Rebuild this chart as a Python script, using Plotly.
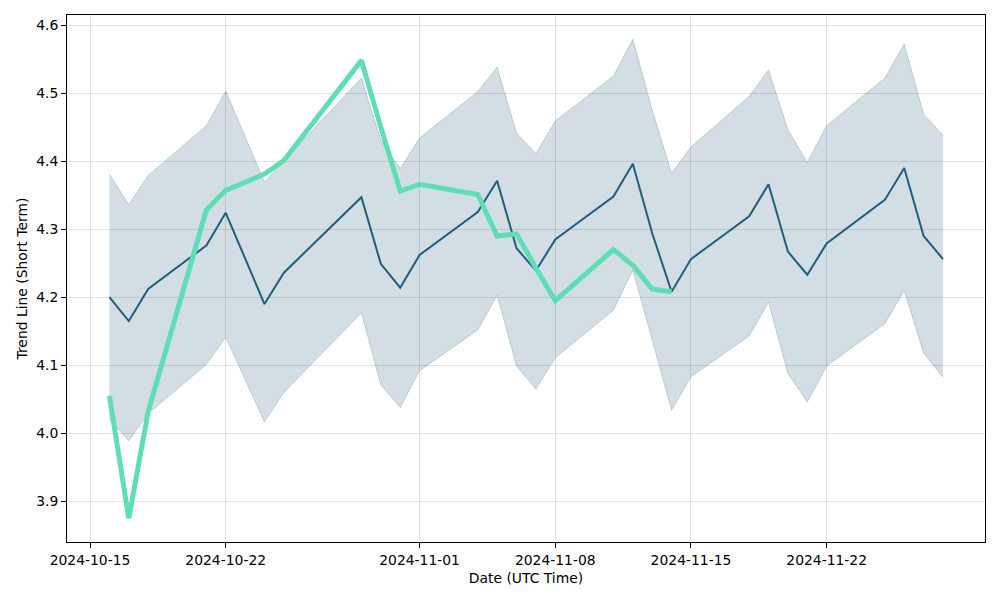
import plotly.graph_objects as go

dates = ["2024-10-16", "2024-10-17", "2024-10-18", "2024-10-21", "2024-10-22", "2024-10-24",
         "2024-10-25", "2024-10-29", "2024-10-30", "2024-10-31", "2024-11-01", "2024-11-04",
         "2024-11-05", "2024-11-06", "2024-11-07", "2024-11-08", "2024-11-11", "2024-11-12",
         "2024-11-13", "2024-11-14", "2024-11-15", "2024-11-18", "2024-11-19", "2024-11-20",
         "2024-11-21", "2024-11-22", "2024-11-25", "2024-11-26", "2024-11-27", "2024-11-28"]

trend_mean = [4.200, 4.165, 4.212, 4.276, 4.324, 4.190, 4.236, 4.347, 4.249, 4.214,
              4.262, 4.325, 4.371, 4.272, 4.239, 4.285, 4.348, 4.396, 4.294, 4.208,
              4.256, 4.319, 4.366, 4.267, 4.233, 4.279, 4.343, 4.390, 4.290, 4.256]

trend_upper = [4.381, 4.336, 4.379, 4.452, 4.503, 4.369, 4.401, 4.522, 4.431, 4.389,
               4.434, 4.502, 4.538, 4.441, 4.411, 4.459, 4.525, 4.579, 4.475, 4.382,
               4.421, 4.495, 4.534, 4.446, 4.398, 4.452, 4.522, 4.572, 4.469, 4.438]

trend_lower = [4.020, 3.989, 4.029, 4.101, 4.141, 4.017, 4.060, 4.177, 4.071, 4.038,
               4.092, 4.152, 4.203, 4.099, 4.065, 4.111, 4.181, 4.240, 4.137, 4.034,
               4.083, 4.143, 4.193, 4.088, 4.046, 4.099, 4.161, 4.210, 4.118, 4.082]

actual_dates = dates[:20]
actual = [4.055, 3.875, 4.032, 4.328, 4.357, 4.381, 4.401, 4.548, 4.450, 4.356,
          4.366, 4.351, 4.290, 4.293, 4.243, 4.195, 4.270, 4.247, 4.212, 4.208]

x_ticks = ["2024-10-15", "2024-10-22", "2024-11-01", "2024-11-08", "2024-11-15", "2024-11-22"]
y_ticks = [3.9, 4.0, 4.1, 4.2, 4.3, 4.4, 4.5, 4.6]

band_edge = "rgba(30,90,120,0.22)"
band_fill = "rgba(30,90,120,0.2)"

fig = go.Figure()
fig.add_trace(go.Scatter(x=dates, y=trend_lower, mode="lines",
                         line=dict(color=band_edge, width=1), showlegend=False, hoverinfo="skip"))
fig.add_trace(go.Scatter(x=dates, y=trend_upper, mode="lines", fill="tonexty",
                         fillcolor=band_fill,
                         line=dict(color=band_edge, width=1), showlegend=False, hoverinfo="skip"))
fig.add_trace(go.Scatter(x=dates, y=trend_mean, mode="lines",
                         line=dict(color="#1f5f7e", width=2), showlegend=False))
fig.add_trace(go.Scatter(x=actual_dates, y=actual, mode="lines",
                         line=dict(color="#5fdeb6", width=5), showlegend=False))

font = dict(family="DejaVu Sans", size=13.9, color="black")
fig.update_layout(
    width=1000, height=600,
    margin=dict(l=67, r=15, t=15, b=58),
    paper_bgcolor="white", plot_bgcolor="white",
    font=font,
    xaxis=dict(
        type="date",
        range=["2024-10-13 19:30", "2024-11-30 04:00"],
        tickvals=x_ticks, ticktext=x_ticks,
        showgrid=True, gridcolor="rgba(160,160,160,0.3)", gridwidth=1,
        showline=True, linecolor="black", linewidth=1, mirror=True,
        ticks="outside", ticklen=5, tickcolor="black",
        title=dict(text="Date (UTC Time)", font=font, standoff=6),
        zeroline=False, automargin=False,
    ),
    yaxis=dict(
        range=[3.8403, 4.6147],
        tickvals=y_ticks, ticktext=[f"{v:.1f}" for v in y_ticks],
        showgrid=True, gridcolor="rgba(160,160,160,0.3)", gridwidth=1,
        showline=True, linecolor="black", linewidth=1, mirror=True,
        ticks="outside", ticklen=5, tickcolor="black",
        title=dict(text="Trend Line (Short Term)", font=font, standoff=5),
        zeroline=False, automargin=False,
    ),
)

fig.write_html("out.html")
